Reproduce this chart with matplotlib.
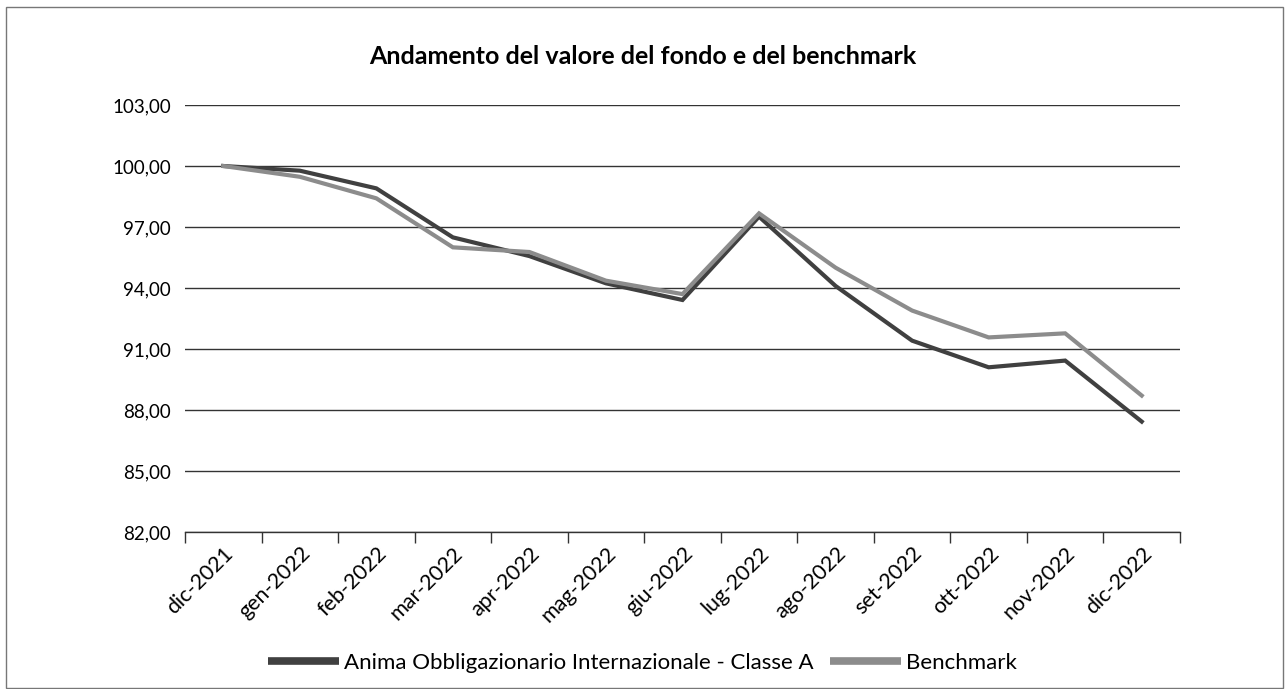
import matplotlib
matplotlib.use("Agg")
import matplotlib.pyplot as plt
from matplotlib.patches import Rectangle
from matplotlib.ticker import FuncFormatter, FixedLocator

categories = ["dic-2021", "gen-2022", "feb-2022", "mar-2022", "apr-2022", "mag-2022",
              "giu-2022", "lug-2022", "ago-2022", "set-2022", "ott-2022", "nov-2022", "dic-2022"]
fondo = [100.00, 99.77, 98.90, 96.49, 95.57, 94.23, 93.41, 97.51, 94.10, 91.41, 90.10, 90.43, 87.43]
benchmark = [100.00, 99.47, 98.41, 96.00, 95.77, 94.36, 93.70, 97.67, 95.00, 92.89, 91.57, 91.77, 88.71]
yticks = [82, 85, 88, 91, 94, 97, 100, 103]

plt.rcParams['font.family'] = ['Lato', 'DejaVu Sans']

fig = plt.figure(figsize=(12.85, 6.89), dpi=100)
ax = fig.add_axes([185/1285, 1-532/689, (1180-185)/1285, (532-105)/689])

x = list(range(len(categories)))
ax.plot(x, fondo, color="#404040", lw=3.0, solid_joinstyle="miter",
        label="Anima Obbligazionario Internazionale - Classe A", zorder=3)
ax.plot(x, benchmark, color="#8c8c8c", lw=3.0, solid_joinstyle="miter",
        label="Benchmark", zorder=3)

ax.set_xlim(-0.5, len(categories) - 0.5)
ax.set_ylim(82, 103)
ax.set_yticks(yticks)
ax.yaxis.set_major_formatter(FuncFormatter(lambda v, p: f"{v:.2f}".replace(".", ",")))
ax.set_xticks(x)
ax.set_xticklabels(categories, rotation=45, ha="right", rotation_mode="anchor")
ax.xaxis.set_minor_locator(FixedLocator([i - 0.5 for i in range(len(categories) + 1)]))
ax.tick_params(axis="x", which="major", length=0, pad=8, labelsize=15.5)
ax.tick_params(axis="x", which="minor", length=8, width=1, color="#333333")
ax.tick_params(axis="y", length=0, pad=10, labelsize=13.5)

ax.grid(axis="y", color="#333333", lw=1)
ax.set_axisbelow(True)
for s in ["left", "right", "top"]:
    ax.spines[s].set_visible(False)
ax.spines["bottom"].set_color("#333333")
ax.spines["bottom"].set_linewidth(1)

fig.text(0.5, 1-57/689, "Andamento del valore del fondo e del benchmark",
         ha="center", va="center", fontsize=18, fontweight="bold")

leg = fig.legend(loc="center", bbox_to_anchor=(0.5, 1-663/689), ncol=2, frameon=False,
                 fontsize=16, handlelength=3.2, handletextpad=0.25, columnspacing=0.7)
for h in leg.get_lines():
    h.set_linewidth(5.5)
    h.set_solid_capstyle("butt")

fig.patches.append(Rectangle((6/1285, 1/689), 1277/1285, 681/689, transform=fig.transFigure,
                             fill=False, edgecolor="#777777", lw=1))

fig.savefig("out.png", dpi=100)
